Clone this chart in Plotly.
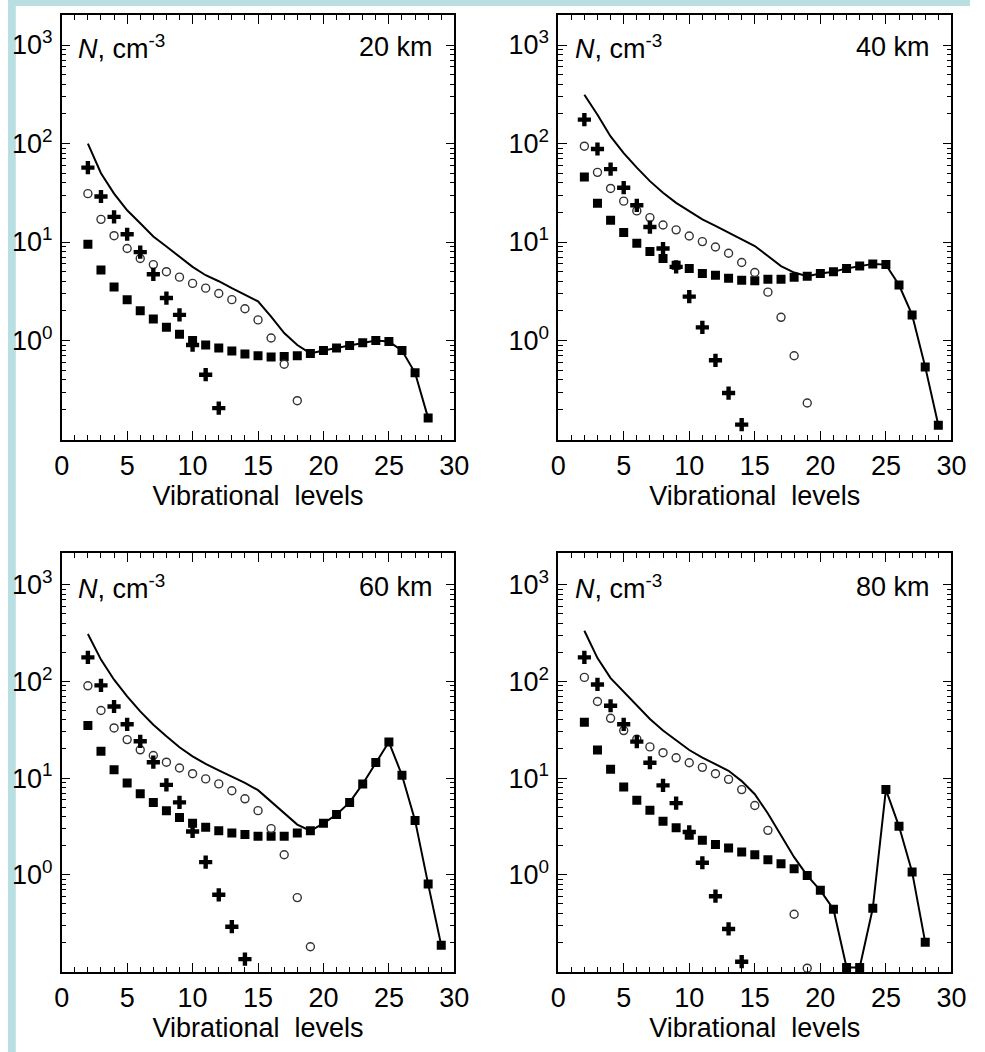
import plotly.graph_objects as go

# ---------------- data ----------------
panel_titles = ["20 km", "40 km", "60 km", "80 km"]

# 20 km
sq_x_20 = list(range(2, 29))
sq_20 = [9.5, 5.2, 3.5, 2.6, 2.0, 1.65, 1.36, 1.16, 1.0, 0.90, 0.84, 0.785, 0.73, 0.70,
         0.68, 0.69, 0.70, 0.74, 0.79, 0.84, 0.89, 0.95, 1.0, 0.98, 0.79, 0.47, 0.163]
line_head_20 = [100, 50, 31, 21, 15.5, 11.4, 9.0, 7.1, 5.6, 4.6, 4.0, 3.4, 2.9, 2.5, 1.75, 1.19, 0.9]
circ_x_20 = list(range(2, 19))
circ_20 = [31, 17, 11.6, 8.6, 6.8, 5.9, 5.0, 4.4, 3.8, 3.4, 3.0, 2.6, 2.1, 1.62, 1.06, 0.575, 0.245]
plus_x_20 = list(range(2, 13))
plus_20 = [57, 29, 18, 12, 7.9, 4.7, 2.7, 1.82, 0.9, 0.45, 0.206]

# 40 km
sq_x_40 = list(range(2, 30))
sq_40 = [45.6, 24.7, 16.6, 12.5, 9.7, 8.0, 6.8, 5.8, 5.4, 4.8, 4.6, 4.3, 4.1, 4.05, 4.2, 4.2,
         4.4, 4.5, 4.8, 5.0, 5.4, 5.7, 6.0, 5.9, 3.66, 1.82, 0.54, 0.138]
line_head_40 = [313, 196, 118, 80, 57, 41.5, 31.7, 25, 20.6, 17, 14.6, 12.5, 10.7, 9.1, 7.2, 5.7, 4.9]
circ_x_40 = list(range(2, 20))
circ_40 = [94, 51, 35, 26, 20.7, 17.7, 14.9, 13.3, 11.5, 10.1, 8.9, 7.7, 6.2, 4.9, 3.1, 1.72, 0.70, 0.232]
plus_x_40 = list(range(2, 15))
plus_40 = [175, 88, 55, 35.6, 23.6, 14.2, 8.6, 5.6, 2.79, 1.36, 0.63, 0.293, 0.14]

# 60 km
sq_x_60 = list(range(2, 30))
sq_60 = [35, 18.9, 12.2, 8.9, 6.9, 5.6, 4.6, 3.9, 3.4, 3.1, 2.85, 2.7, 2.6, 2.5, 2.5, 2.5,
         2.7, 2.85, 3.4, 4.2, 5.6, 8.7, 14.5, 23.6, 10.7, 3.65, 0.80, 0.186]
line_head_60 = [309, 168, 104, 70, 49, 35.6, 27, 20.8, 16.8, 14, 12, 10.4, 8.9, 7.5, 5.7, 4.3, 3.3]
circ_x_60 = list(range(2, 20))
circ_60 = [90, 50, 33, 25, 19.6, 17.1, 14.6, 12.7, 11.1, 9.8, 8.7, 7.4, 6.1, 4.6, 3.0, 1.61, 0.58, 0.18]
plus_x_60 = list(range(2, 15))
plus_60 = [177, 91, 55, 36, 24, 14.6, 8.5, 5.6, 2.8, 1.35, 0.62, 0.29, 0.134]

# 80 km
sq_x_80 = list(range(2, 29))
sq_80 = [37.7, 19.5, 12.3, 8.1, 5.9, 4.65, 3.57, 3.07, 2.56, 2.27, 2.05, 1.89, 1.72, 1.61, 1.43,
         1.3, 1.15, 0.98, 0.69, 0.44, 0.11, 0.11, 0.45, 7.6, 3.17, 1.07, 0.2]
line_head_80 = [334, 174, 108, 78, 56, 40.8, 31, 24.7, 19.5, 16.3, 13.9, 11.9, 9.3, 6.8, 4.3, 2.56, 1.52]
circ_x_80 = list(range(2, 17)) + [18, 19]
circ_80 = [110, 62, 41.5, 31, 25.3, 21, 18.3, 16.2, 14.4, 12.9, 11.1, 9.7, 7.6, 5.2, 2.88, 0.39, 0.108]
plus_x_80 = list(range(2, 15))
plus_80 = [177, 93, 56, 36, 23.8, 14.4, 8.4, 5.5, 2.77, 1.33, 0.6, 0.275, 0.126]

x_tickvals = [0, 5, 10, 15, 20, 25, 30]
y_tickvals = [1, 10, 100, 1000]
y_ticktext = ["10<sup>0</sup>", "10<sup>1</sup>", "10<sup>2</sup>", "10<sup>3</sup>"]
x_title = "Vibrational\u00a0 levels"
y_label = "<i>N</i>, cm<sup>-3</sup>"

panels = [
    (sq_x_20, sq_20, line_head_20, circ_x_20, circ_20, plus_x_20, plus_20),
    (sq_x_40, sq_40, line_head_40, circ_x_40, circ_40, plus_x_40, plus_40),
    (sq_x_60, sq_60, line_head_60, circ_x_60, circ_60, plus_x_60, plus_60),
    (sq_x_80, sq_80, line_head_80, circ_x_80, circ_80, plus_x_80, plus_80),
]

# ---------------- layout geometry ----------------
W, H = 985, 1052
x_doms = [(55 / W, 457 / W), (563.3 / W, 966 / W)]
y_doms = [(1 - 440 / H, 1 - 15 / H), (1 - 972 / H, 1 - 553 / H)]
y_ranges = [(-1.01, 3.305), (-1.006, 3.328)]

FONT = "Liberation Sans, Arial, sans-serif"
FS = 27
minor_y = [m * 10 ** e for e in range(-1, 3) for m in range(2, 10)]

fig = go.Figure()
layout = dict(
    width=W, height=H, autosize=False,
    margin=dict(l=0, r=0, t=0, b=0),
    paper_bgcolor="white", plot_bgcolor="white",
    showlegend=False,
    font=dict(family=FONT, size=FS, color="black"),
    shapes=[
        dict(type="rect", xref="paper", yref="paper", x0=0, x1=8 / W, y0=0, y1=1,
             fillcolor="#b9dfe3", line=dict(width=0), layer="below"),
        dict(type="rect", xref="paper", yref="paper", x0=0, x1=1, y0=1 - 6 / H, y1=1,
             fillcolor="#b9dfe3", line=dict(width=0), layer="below"),
    ],
    annotations=[],
)

for i, (sqx, sqy, lhead, cx, cy, px, py) in enumerate(panels):
    row, col = divmod(i, 2)
    n = i + 1
    xa = "x" if n == 1 else f"x{n}"
    ya = "y" if n == 1 else f"y{n}"
    xkey = "xaxis" if n == 1 else f"xaxis{n}"
    ykey = "yaxis" if n == 1 else f"yaxis{n}"

    line_x = list(range(2, 2 + len(lhead))) + sqx[len(lhead):]
    line_y = lhead + sqy[len(lhead):]

    fig.add_trace(go.Scatter(x=line_x, y=line_y, mode="lines",
                             line=dict(color="black", width=2), xaxis=xa, yaxis=ya))
    fig.add_trace(go.Scatter(x=sqx, y=sqy, mode="markers",
                             marker=dict(symbol="square", size=9, color="black"),
                             xaxis=xa, yaxis=ya))
    fig.add_trace(go.Scatter(x=cx, y=cy, mode="markers",
                             marker=dict(symbol="circle-open", size=8, color="#333333",
                                         line=dict(width=1.4, color="#333333")),
                             xaxis=xa, yaxis=ya))
    fig.add_trace(go.Scatter(x=px, y=py, mode="markers",
                             marker=dict(symbol="cross", size=11, color="black"),
                             xaxis=xa, yaxis=ya))

    layout[xkey] = dict(
        domain=x_doms[col], anchor=ya, range=[0, 30],
        tickvals=x_tickvals, ticks="inside", ticklen=9, tickwidth=1.3,
        tickcolor="black", mirror="ticks", showline=True, linecolor="black", linewidth=1.5,
        showgrid=False, zeroline=False,
        minor=dict(dtick=1, ticks="inside", ticklen=5, tickwidth=1.3, tickcolor="black",
                   showgrid=False),
        tickfont=dict(family=FONT, size=FS), ticklabelstandoff=1,
        title=dict(text=x_title, font=dict(family=FONT, size=FS), standoff=2),
    )
    layout[ykey] = dict(
        domain=y_doms[row], anchor=xa, type="log", range=list(y_ranges[row]),
        tickvals=y_tickvals, ticktext=y_ticktext, ticks="inside", ticklen=9, tickwidth=1.3,
        tickcolor="black", mirror="ticks", showline=True, linecolor="black", linewidth=1.5,
        showgrid=False, zeroline=False,
        minor=dict(tickvals=minor_y, ticks="inside", ticklen=5, tickwidth=1.3,
                   tickcolor="black", showgrid=False),
        tickfont=dict(family=FONT, size=FS), ticklabelstandoff=2,
    )
    layout["annotations"].append(dict(
        xref=xa, yref=ya, x=1.1, y=3, yshift=-2, text=y_label,
        showarrow=False, xanchor="left", yanchor="middle", font=dict(family=FONT, size=FS)))
    layout["annotations"].append(dict(
        xref=xa, yref=ya, x=28.5, y=3, yshift=-2, text=panel_titles[i],
        showarrow=False, xanchor="right", yanchor="middle", font=dict(family=FONT, size=FS)))

fig.update_layout(**layout)
fig.write_html("out.html")
